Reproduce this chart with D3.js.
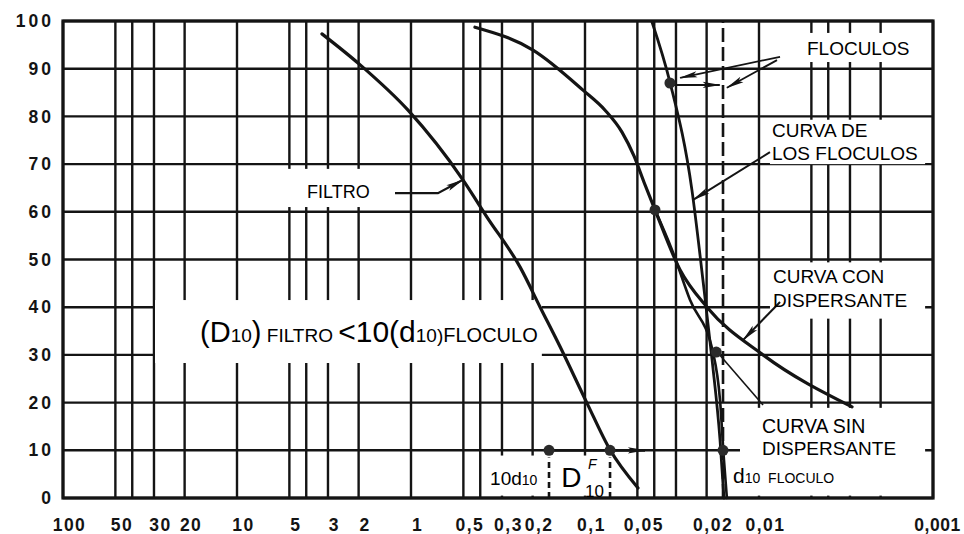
<!DOCTYPE html>
<html><head><meta charset="utf-8">
<script src="https://cdn.jsdelivr.net/npm/d3@7"></script>
<style>body{margin:0;background:#fff}svg{display:block}</style>
</head><body><svg id="c" width="964" height="534"></svg>
<script>
// ---------- data ----------
const xTickValues = [100,50,30,20,10,5,3,2,1,0.5,0.3,0.2,0.1,0.05,0.02,0.01,0.001];
const xTickLabels = ["100","50","30","20","10","5","3","2","1","0,5","0,3","0,2","0,1","0,05","0,02","0,01","0,001"];
const xGridValues = [100,50,40,30,20,10,5,4,3,2,1,0.5,0.4,0.3,0.2,0.1,0.05,0.04,0.03,0.02,0.01,0.005,0.004,0.003,0.002,0.001];
const yTickValues = [0,10,20,30,40,50,60,70,80,90,100];

const filtroSize = [3.25,1.96,1.04,0.503,0.366,0.236,0.181,0.139,0.0974,0.0718,0.0496];
const filtroPct  = [97.3,90.8,81.3,66.7,58.9,48.4,40.0,31.7,19.9,10.1,2.1];

const conSize = [0.429,0.199,0.1027,0.0767,0.0613,0.0523,0.0458,0.0396,0.0284,0.0199,0.00948,0.00292];
const conPct  = [98.7,93.9,85.5,81.3,76.7,71.7,66.2,60.4,47.8,40.0,30.0,19.1];

const sinSize = [0.0396,0.0316,0.0249,0.0184,0.01675,0.0159,0.0153];
const sinPct  = [60.4,52.0,41.5,30.6,20.5,8.0,0];

const flocSize = [0.0412,0.0325,0.0243,0.021,0.0186,0.01675,0.0159];
const flocPct  = [99.8,87.2,64.6,45.7,28.9,12.2,0];

const markSize = [0.0396,0.0325,0.0176,0.0161,0.161,0.0718];
const markPct  = [60.4,87.0,30.6,10.0,10.0,10.0];

const d10Floculo = 0.0161;
const tenD10 = 0.161;
const d10Filtro = 0.0718;

// ---------- layout ----------
const svg = d3.select("#c");
const x = d3.scaleLog().domain([100,0.001]).range([63,933]);
const y = d3.scaleLinear().domain([0,100]).range([498,21]);
const ink = "#141414";
const font = "'Liberation Sans', Arial, Helvetica, sans-serif";

// gridlines
svg.append("g").selectAll("line").data(xGridValues).join("line")
  .attr("x1",d=>x(d)).attr("x2",d=>x(d)).attr("y1",y(0)).attr("y2",y(100))
  .attr("stroke",ink).attr("stroke-width",2.4);
svg.append("g").selectAll("line").data(yTickValues).join("line")
  .attr("x1",x(100)).attr("x2",x(0.001)).attr("y1",d=>y(d)).attr("y2",d=>y(d))
  .attr("stroke",ink).attr("stroke-width",2.4);

// white label backgrounds (interrupt gridlines)
const boxes = [
  [9.0,1.51,61,69],       // FILTRO
  [29.6,0.177,28.3,41.5], // big label
  [0.0058,0.00111,91.4,97.5], // FLOCULOS
  [0.00865,0.00111,70.0,79.3], // CURVA DE
  [0.00865,0.00111,37.6,49.4], // CURVA CON
  [0.01286,0.00111,0.5,18.9],  // CURVA SIN
  [0.361,0.0738,0.5,8.9]       // 10d10 / D10F
];
svg.append("g").selectAll("rect").data(boxes).join("rect")
  .attr("x",d=>x(d[0])).attr("width",d=>x(d[1])-x(d[0]))
  .attr("y",d=>y(d[3])).attr("height",d=>y(d[2])-y(d[3]))
  .attr("fill","#fff");

// frame
svg.append("rect").attr("x",x(100)).attr("y",y(100))
  .attr("width",x(0.001)-x(100)).attr("height",y(0)-y(100))
  .attr("fill","none").attr("stroke",ink).attr("stroke-width",3.2);

// axes
const xAxis = d3.axisBottom(x).tickValues(xTickValues)
  .tickFormat((d,i)=>xTickLabels[i]).tickSize(0).tickPadding(21);
const gx = svg.append("g").attr("transform",`translate(0,${y(0)})`).call(xAxis);
gx.select(".domain").remove();
gx.selectAll("text").attr("dx",6).attr("font-family",font).attr("font-size",17.5)
  .attr("font-weight","bold").attr("letter-spacing",1.5).attr("fill",ink);
gx.selectAll("text").filter(d=>d===0.001).attr("dx",4).attr("letter-spacing",0.5);

const yAxis = d3.axisLeft(y).tickValues(yTickValues).tickSize(0).tickPadding(9);
const gy = svg.append("g").attr("transform",`translate(${x(100)},0)`).call(yAxis);
gy.select(".domain").remove();
gy.selectAll("text").attr("font-family",font).attr("font-size",17.5)
  .attr("font-weight","bold").attr("letter-spacing",3).attr("fill",ink);

// dashed reference lines
const dashed = [[d10Floculo,0,100,"14,5"],[tenD10,0,8.5,"6,4"],[d10Filtro,0,8.5,"6,4"]];
svg.append("g").selectAll("line").data(dashed).join("line")
  .attr("x1",d=>x(d[0])).attr("x2",d=>x(d[0])).attr("y1",d=>y(d[1])).attr("y2",d=>y(d[2]))
  .attr("stroke",ink).attr("stroke-width",2.6).attr("stroke-dasharray",d=>d[3]);

// curves
const line = d3.line().x(d=>x(d[0])).y(d=>y(d[1])).curve(d3.curveMonotoneX);
const curves = [
  [d3.zip(filtroSize,filtroPct),3.2],
  [d3.zip(conSize,conPct),3.2],
  [d3.zip(sinSize,sinPct),2.6],
  [d3.zip(flocSize,flocPct),2.8]
];
svg.append("g").selectAll("path").data(curves).join("path")
  .attr("d",d=>line(d[0])).attr("fill","none").attr("stroke",ink)
  .attr("stroke-width",d=>d[1]).attr("stroke-linecap","round");

// arrow marker
const defs = svg.append("defs");
defs.append("marker").attr("id","ah").attr("viewBox","0 0 20 10")
  .attr("refX",19).attr("refY",5).attr("markerWidth",20).attr("markerHeight",9)
  .attr("markerUnits","userSpaceOnUse").attr("orient","auto")
  .append("path").attr("d","M0,1.5 L20,5 L0,8.5 L4,5 Z").attr("fill",ink);

// pointers (data coordinates)
const pointers = [
  [[[1.236,63.9],[0.70,63.9],[0.503,66.7]],true,2.2],          // FILTRO
  [[[0.00757,92.5],[0.0284,88.1]],true,1.8],                   // FLOCULOS 1
  [[[0.00788,91.8],[0.0153,86.0]],true,1.8],                   // FLOCULOS 2
  [[[0.0325,86.6],[0.0168,86.6]],true,2.0],                    // horizontal arrow
  [[[0.00865,72.5],[0.0239,62.5]],true,2.0],                   // CURVA DE
  [[[0.00757,41.1],[0.01236,33.1]],true,2.0],                  // CURVA CON
  [[[0.00948,19.5],[0.0174,30.6]],false,1.6],                  // CURVA SIN
  [[[tenD10,10],[0.0452,10]],true,2.8]                         // 10d10 -> D10
];
const pl = d3.line().x(d=>x(d[0])).y(d=>y(d[1]));
svg.append("g").selectAll("path").data(pointers).join("path")
  .attr("d",d=>pl(d[0])).attr("fill","none").attr("stroke",ink)
  .attr("stroke-width",d=>d[2]).attr("marker-end",d=>d[1]?"url(#ah)":null);

// markers
svg.append("g").selectAll("circle").data(d3.zip(markSize,markPct)).join("circle")
  .attr("cx",d=>x(d[0])).attr("cy",d=>y(d[1])).attr("r",5.5).attr("fill","#2a2a2a");

// labels
function lab(d,p,parts,anchor){
  const t = svg.append("text").attr("x",x(d)).attr("y",y(p))
    .attr("font-family",font).attr("fill","#000").attr("text-anchor",anchor||"start");
  parts.forEach(pt=>{
    t.append("tspan").attr("font-size",pt[1]).text(pt[0]);
  });
  return t;
}
lab(3.96,62.9,[["FILTRO",18]]);
lab(16.3,32.7,[["(D",29],["10",19],[")",29],[" FILTRO ",19],["<10(d",30],["10)",19],["FLOCULO",20]]);
lab(0.351,2.7,[["10d",19],["10",14]]);
lab(0.137,2.3,[["D",28]]);
lab(0.0962,6.1,[["F",14]]).attr("font-style","italic");
lab(0.1,0.2,[["10",17]]);
lab(0.0141,3.1,[["d",21],["10",14],["  FLOCULO",14]]).attr("xml:space","preserve");
lab(0.0053,92.9,[["FLOCULOS",19]]);
lab(0.00842,75.7,[["CURVA DE",19]]);
lab(0.00842,70.9,[["LOS FLOCULOS",19]]);
lab(0.00831,45.1,[["CURVA CON",19]]);
lab(0.00831,40.0,[["DISPERSANTE",19]]);
lab(0.00961,13.6,[["CURVA SIN",19.5]]);
lab(0.00961,9.0,[["DISPERSANTE",19]]);
</script></body></html>
